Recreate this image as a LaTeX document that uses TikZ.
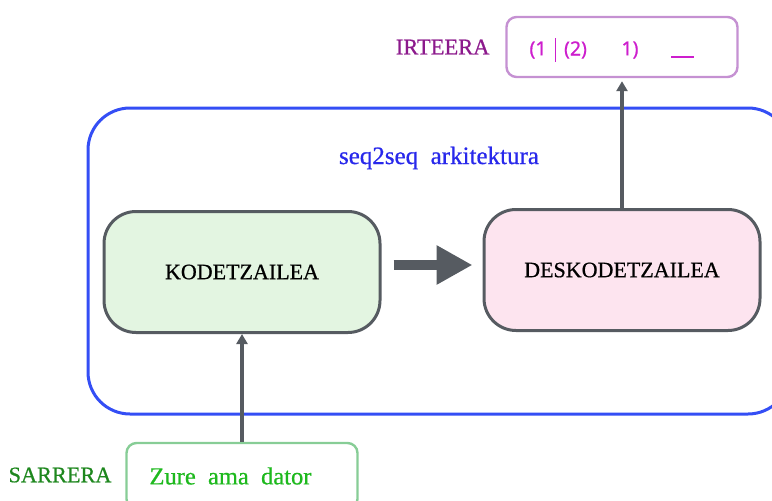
\documentclass[tikz,border=0pt]{standalone}
\usepackage{fontspec}
\setmainfont{Liberation Serif}[RawFeature={embolden=0.7}]
\newfontfamily\codefont{Noto Sans}[RawFeature={embolden=0.7}]
\usetikzlibrary{arrows.meta}
\definecolor{frameblue}{RGB}{52,78,245}
\definecolor{textblue}{RGB}{40,40,235}
\definecolor{boxgray}{RGB}{86,91,97}
\definecolor{encfill}{RGB}{227,245,225}
\definecolor{decfill}{RGB}{253,228,239}
\definecolor{outborder}{RGB}{197,145,210}
\definecolor{outtext}{RGB}{205,30,205}
\definecolor{outlabel}{RGB}{140,25,140}
\definecolor{inborder}{RGB}{135,205,150}
\definecolor{intext}{RGB}{30,185,30}
\definecolor{inlabel}{RGB}{30,135,30}
\tikzset{
  module/.style={draw=boxgray, line width=3pt, rounded corners=32pt,
    minimum width=276pt, minimum height=121pt, font=\fontsize{22}{26}\selectfont},
  iobox/.style={line width=2.4pt, rounded corners=10pt, minimum width=231pt, minimum height=60pt},
  codetext/.style={text=outtext, font=\codefont\fontsize{19.5}{22}\selectfont, inner sep=0pt},
  flow/.style={draw=boxgray, line width=4pt, -{Triangle[length=10pt,width=11pt]}},
}
\begin{document}
\begin{tikzpicture}[x=1pt,y=-1pt]
\useasboundingbox (0,0) rectangle (772,501);
\begin{scope}
\clip (0,0) rectangle (772,501);
% seq2seq frame, running past the right edge
\node[draw=frameblue, line width=3pt, rounded corners=42pt,
  minimum width=702pt, minimum height=306pt] (frame) at (439,261) {};
\node[text=textblue, font=\fontsize{25}{28}\selectfont] (title) at (439,158) {seq2seq\ \ arkitektura};

% encoder and decoder
\node[module, fill=encfill] (enc) at (242,272) {KODETZAILEA};
\node[module, fill=decfill] (dec) at (622,270) {DESKODETZAILEA};

% output box
\node[iobox, draw=outborder] (out) at (622,47) {};
\node[text=outlabel, font=\fontsize{22.5}{26}\selectfont, anchor=east] (outlbl) at (493,47) {IRTEERA};
\node[codetext] (o1) at (538,50) {(1};
\node[codetext] (o2) at (575.5,50) {(2)};
\node[codetext] (o3) at (630,50) {1)};
\coordinate (b1) at (555.5,38);
\coordinate (b2) at (555.5,62);
\draw[outtext, line width=1.5pt] (b1) -- (b2);
\coordinate (u1) at (671,56.5);
\coordinate (u2) at (694,56.5);
\draw[outtext, line width=2pt] (u1) -- (u2);

% input box, running past the bottom edge
\node[iobox, draw=inborder, minimum height=66pt] (in) at (242,476) {};
\node[text=intext, font=\fontsize{24.5}{28}\selectfont, anchor=west] (intxt) at (146,476) {Zure\ \ ama\ \ dator};
\node[text=inlabel, font=\fontsize{22.3}{26}\selectfont, anchor=east] (inlbl) at (115,475) {SARRERA};

% connectors
\draw[flow] (in.north) -- (enc.south);
\draw[flow, shorten >=3pt] (dec.north) -- (out.south);
\coordinate (ta) at ([xshift=12pt]enc.east |- 0,265);
\coordinate (tb) at ([xshift=-10pt]dec.west |- 0,265);
\draw[boxgray, line width=10pt, -{Triangle[length=36pt,width=37pt]}] (ta) -- (tb);
\end{scope}
\end{tikzpicture}
\end{document}
